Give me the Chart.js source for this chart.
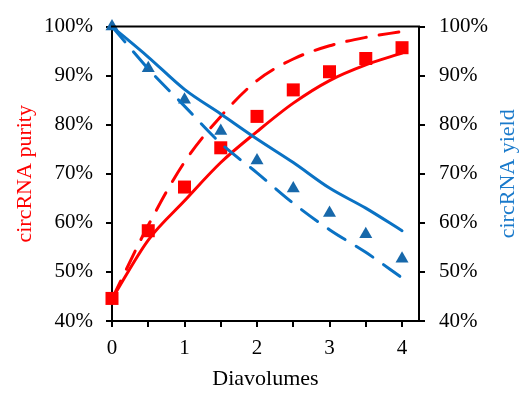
<!DOCTYPE html>
<html>
<head>
<meta charset="utf-8">
<script src="https://cdn.jsdelivr.net/npm/chart.js@4.4.0/dist/chart.umd.min.js"></script>
<style>
  html, body { margin: 0; padding: 0; background: #fff; }
  #wrap { width: 530px; height: 398px; }
</style>
</head>
<body>
<div id="wrap"><canvas id="chart" width="530" height="398"></canvas></div>
<script>
// diavolumes
const diavolumes = [0, 0.5, 1, 1.5, 2, 2.5, 3, 3.5, 4];
// measured points (%)
const purityMeasured = [44.6, 58.4, 67.3, 75.3, 81.7, 87.1, 90.8, 93.5, 95.7];
const yieldMeasured = [100, 91.5, 85.1, 78.7, 72.7, 67.0, 62.0, 57.7, 52.7];
// model curves (%)
const purityModel = [44.5, 56.5, 64.5, 72.3, 78.6, 84.4, 89.0, 92.2, 94.6];
const purityIdeal = [44.5, 59.5, 72.4, 81.7, 89.0, 93.4, 96.1, 97.8, 99.0];
const yieldModel = [100, 93.8, 87.2, 82.2, 77.1, 72.3, 67.1, 63.0, 58.4];
const yieldIdeal = [100, 91.4, 83.8, 76.2, 70.2, 64.0, 58.6, 54.0, 48.8];
// ticks
const xTicks = [0, 0.5, 1, 1.5, 2, 2.5, 3, 3.5, 4];
const yTicks = [40, 50, 60, 70, 80, 90, 100];

const RED = '#FF0000';
const BLUE = '#0A72C4';
const BLUE_MARK = '#1768AA';
const BLUE_TEXT = '#1A7ACB';

const pts = arr => arr.map((v, i) => ({ x: diavolumes[i], y: v }));

const font = { family: "'Liberation Serif', 'Times New Roman', serif", size: 21 };
const titleFont = { family: "'Liberation Serif', 'Times New Roman', serif", size: 22 };

// top border of the box + right axis title read bottom-to-top
const frame = {
  id: 'frame',
  afterDraw(chart) {
    const { ctx, chartArea } = chart;
    ctx.save();
    ctx.strokeStyle = '#000';
    ctx.lineWidth = 2;
    ctx.beginPath();
    ctx.moveTo(chartArea.left - 1, chartArea.top);
    ctx.lineTo(chartArea.right + 1, chartArea.top);
    ctx.stroke();

    ctx.translate(chart.width - 22, (chartArea.top + chartArea.bottom) / 2);
    ctx.rotate(-Math.PI / 2);
    ctx.fillStyle = BLUE_TEXT;
    ctx.font = titleFont.size + 'px ' + titleFont.family;
    ctx.textAlign = 'center';
    ctx.textBaseline = 'middle';
    ctx.fillText('circRNA yield', 0, 0);
    ctx.restore();
  }
};

const lineDs = (label, data, color, axis, dashed) => ({
  label: label,
  data: pts(data),
  showLine: true,
  borderColor: color,
  borderWidth: 3,
  borderDash: dashed ? [20, 13] : [],
  borderCapStyle: 'round',
  pointRadius: 0,
  cubicInterpolationMode: 'monotone',
  yAxisID: axis,
  clip: false
});

new Chart(document.getElementById('chart').getContext('2d'), {
  type: 'scatter',
  data: {
    datasets: [
      lineDs('Yield ideal', yieldIdeal, BLUE, 'y1', true),
      lineDs('Yield model', yieldModel, BLUE, 'y1', false),
      lineDs('Purity ideal', purityIdeal, RED, 'y', true),
      lineDs('Purity model', purityModel, RED, 'y', false),
      {
        label: 'Yield',
        data: pts(yieldMeasured),
        pointStyle: 'triangle',
        pointRadius: 7.5,
        backgroundColor: BLUE_MARK,
        borderColor: BLUE_MARK,
        borderWidth: 0,
        yAxisID: 'y1',
        clip: false
      },
      {
        label: 'Purity',
        data: pts(purityMeasured),
        pointStyle: 'rect',
        pointRadius: 9.2,
        backgroundColor: RED,
        borderColor: RED,
        borderWidth: 0,
        yAxisID: 'y',
        clip: false
      }
    ]
  },
  options: {
    responsive: false,
    animation: false,
    layout: { padding: { top: 24, left: 0, right: 0, bottom: 0 } },
    plugins: { legend: { display: false }, tooltip: { enabled: false } },
    scales: {
      x: {
        type: 'linear',
        min: 0,
        max: 4.234,
        afterBuildTicks: s => { s.ticks = xTicks.map(v => ({ value: v })); },
        afterFit: s => { s.height = 77; },
        ticks: {
          autoSkip: false,
          maxRotation: 0,
          padding: 9,
          color: '#000',
          font: font,
          callback: v => Number.isInteger(v) ? String(v) : ''
        },
        grid: { drawOnChartArea: false, color: '#000', lineWidth: 2, tickLength: 6 },
        border: { color: '#000', width: 2 },
        title: { display: true, text: 'Diavolumes', color: '#000', font: titleFont, padding: { top: 0, bottom: 6 } }
      },
      y: {
        position: 'left',
        min: 40,
        max: 100,
        afterBuildTicks: s => { s.ticks = yTicks.map(v => ({ value: v })); },
        afterFit: s => { s.width = 112; },
        ticks: { padding: 13, color: '#000', font: font, callback: v => v + '%' },
        grid: { drawOnChartArea: false, color: '#000', lineWidth: 2, tickLength: 6 },
        border: { color: '#000', width: 2 },
        title: { display: true, text: 'circRNA purity', color: RED, font: titleFont, padding: { top: 12, bottom: 0 } }
      },
      y1: {
        position: 'right',
        min: 40,
        max: 100,
        afterBuildTicks: s => { s.ticks = yTicks.map(v => ({ value: v })); },
        afterFit: s => { s.width = 111; },
        ticks: { padding: 14, color: '#000', font: font, callback: v => v + '%' },
        grid: { drawOnChartArea: false, color: '#000', lineWidth: 2, tickLength: 6 },
        border: { color: '#000', width: 2 },
        title: { display: false }
      }
    }
  },
  plugins: [frame]
});
</script>
</body>
</html>
